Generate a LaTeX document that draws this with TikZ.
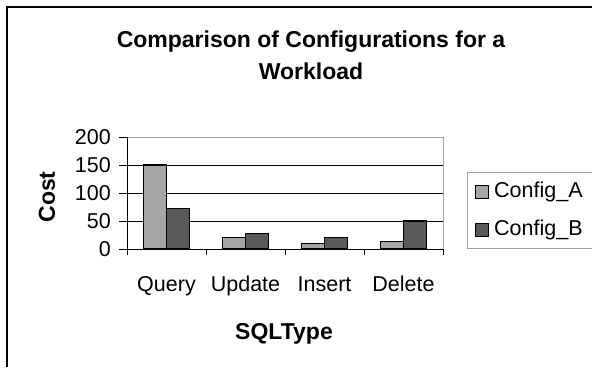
\documentclass[tikz,border=0pt]{standalone}
\usepackage{fontspec}
\setmainfont{Liberation Sans}
\definecolor{cfgA}{HTML}{A6A6A6}
\definecolor{cfgB}{HTML}{595959}
\definecolor{plotedge}{HTML}{A0A0A0}
\begin{document}
\begin{tikzpicture}[x=1pt,y=-1pt,
  lbl/.style={font=\fontsize{21.5}{26}\selectfont, inner sep=0pt},
  boldlbl/.style={font=\fontsize{23}{32}\selectfont\bfseries, inner sep=0pt},
  gridline/.style={line width=0.8pt, black},
  bar/.style={draw=black, line width=1.2pt},
  legendkey/.style={draw=black, line width=1pt}]
\useasboundingbox (0,0) rectangle (592,367);
\fill[white] (0,0) rectangle (592,367);
% chart frame (top and left edges)
\draw[line width=1.6pt] (7,367) -- (7,7) -- (592,7);

% title
\node[boldlbl, align=center] (title) at (311,55) {Comparison of Configurations for a\\Workload};

% plot area border and grid
\draw[plotedge, line width=0.8pt] (127,137) -- (443,137) -- (443,249);
\foreach \v in {50,100,150}
  \draw[gridline] (127,{249-0.56*\v}) -- (443,{249-0.56*\v});
% y ticks
\foreach \v in {0,50,100,150,200}
  \draw[gridline] (119,{249-0.56*\v}) -- (127,{249-0.56*\v});

% bars: category centre, Config_A, Config_B
\foreach \c/\a/\b in {166.5/150/72, 245.5/21/28, 324.5/10/21, 403.5/13/50} {
  \filldraw[bar, fill=cfgA] ({\c-23},249) rectangle (\c,{249-0.56*\a});
  \filldraw[bar, fill=cfgB] (\c,249) rectangle ({\c+23},{249-0.56*\b});
}

% axes
\draw[gridline] (127,137) -- (127,249);
\draw[gridline] (127,249) -- (443,249);
\foreach \x in {127,206,285,364,443}
  \draw[gridline] (\x,249) -- (\x,255);

% y tick labels
\foreach \v in {0,50,100,150,200}
  \node[lbl, anchor=east] (ytick\v) at (111,{249-0.56*\v}) {\v};

% category labels
\node[lbl, anchor=base] (catq) at (166.5,291) {Query};
\node[lbl, anchor=base] (catu) at (245.5,291) {Update};
\node[lbl, anchor=base] (cati) at (324.5,291) {Insert};
\node[lbl, anchor=base] (catd) at (403.5,291) {Delete};

% axis titles
\node[boldlbl, rotate=90] (ytitle) at (47,197) {Cost};
\node[boldlbl, anchor=base] (xtitle) at (284,339) {SQLType};

% legend
\draw[plotedge, line width=0.8pt] (593,172) -- (467,172) -- (467,248) -- (593,248);
\filldraw[legendkey, fill=cfgA] (475,185) rectangle (488,198);
\filldraw[legendkey, fill=cfgB] (475,223) rectangle (488,236);
\node[lbl, anchor=base west] (lega) at (494,197.5) {Config\_A};
\node[lbl, anchor=base west] (legb) at (494,235.5) {Config\_B};
\end{tikzpicture}
\end{document}
